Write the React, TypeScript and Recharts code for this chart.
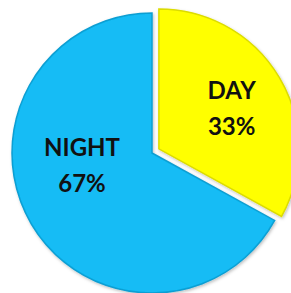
import { PieChart, Pie, Cell, Sector } from 'recharts';

const names = ['DAY', 'NIGHT'];
const shares = [33, 67];

const COLORS: Record<string, string> = {
  DAY: '#FFFF00',
  NIGHT: '#12BCF5',
};

const EDGES: Record<string, string> = {
  DAY: '#DCDC00',
  NIGHT: '#0E9ED2',
};

// where each label sits relative to the slice centre, as a fraction of the radius
const LABEL_AT: Record<string, { dx: number; dy: number }> = {
  DAY: { dx: 0.52, dy: -0.3 },
  NIGHT: { dx: -0.5, dy: 0.08 },
};

const EXPLODE = 8;

const chartData = names.map((name, i) => ({ name, value: shares[i] }));

const RAD = Math.PI / 180;

function offsetFor(name: string, midAngle: number) {
  if (name !== 'DAY') return { x: 0, y: 0 };
  return { x: EXPLODE * Math.cos(-midAngle * RAD), y: EXPLODE * Math.sin(-midAngle * RAD) };
}

function SliceShape(props: any) {
  const { cx, cy, midAngle, name, payload } = props;
  const n = name ?? payload?.name;
  const o = offsetFor(n, midAngle);
  return (
    <Sector
      {...props}
      cx={cx + o.x}
      cy={cy + o.y}
      fill={COLORS[n]}
      stroke={EDGES[n]}
      strokeWidth={1.5}
      filter="url(#soft)"
    />
  );
}

function SliceLabel(props: any) {
  const { cx, cy, midAngle, outerRadius, name, value } = props;
  const o = offsetFor(name, midAngle);
  const pos = LABEL_AT[name];
  const x = cx + o.x + pos.dx * outerRadius;
  const y = cy + o.y + pos.dy * outerRadius;
  return (
    <text
      x={x}
      y={y}
      textAnchor="middle"
      fill="#111"
      fontFamily="Lato, 'Open Sans', sans-serif"
      fontWeight={700}
      fontSize={24}
    >
      <tspan x={x} dy={-8}>{name}</tspan>
      <tspan x={x} dy={36}>{`${value}%`}</tspan>
    </text>
  );
}

export default function App() {
  return (
    <div style={{ position: 'fixed', left: 0, top: 0, width: 291, height: 293, background: '#fff' }}>
      <PieChart width={291} height={293} margin={{ top: 0, right: 0, bottom: 0, left: 0 }}>
        <defs>
          <filter id="soft" x="-10%" y="-10%" width="120%" height="120%">
            <feDropShadow dx="1" dy="1.5" stdDeviation="1.5" floodColor="#000" floodOpacity="0.25" />
          </filter>
        </defs>
        <Pie
          data={chartData}
          dataKey="value"
          nameKey="name"
          cx={152}
          cy={153}
          outerRadius={140}
          startAngle={90}
          endAngle={-270}
          stroke="none"
          shape={SliceShape}
          label={SliceLabel}
          labelLine={false}
          isAnimationActive={false}
        >
          {chartData.map((d) => (
            <Cell key={d.name} fill={COLORS[d.name]} />
          ))}
        </Pie>
      </PieChart>
    </div>
  );
}
